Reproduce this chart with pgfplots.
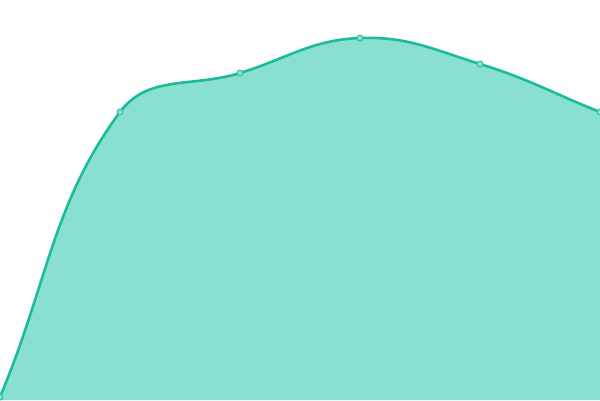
\documentclass[border=0pt]{standalone}
\usepackage{pgfplots}
\pgfplotsset{compat=1.18}
\definecolor{turq}{RGB}{26,188,156}
\definecolor{turqfill}{RGB}{137,224,208}

% spline like the one of the source chart: control points weighted by the
% distances to the neighbours (tension 0.4)
\makeatletter
\newcount\cj@n
\newcount\cj@i
\def\cj@t{0.4}
\def\cj@get#1#2{\csname cj#1\number#2\endcsname}
\def\pgfplothandlerchartjs{%
  \def\pgf@plotstreamstart{\global\cj@n=0\relax}%
  \def\pgf@plotstreampoint##1{%
    \pgf@process{##1}%
    \global\advance\cj@n by 1\relax
    \expandafter\xdef\csname cjx\the\cj@n\endcsname{\strip@pt\pgf@x}%
    \expandafter\xdef\csname cjy\the\cj@n\endcsname{\strip@pt\pgf@y}}%
  \def\pgf@plotstreamspecial##1{}%
  \def\pgf@plotstreamend{\cj@emit}%
}
\def\cj@emit{%
  \cj@i=1\relax
  \loop
    \edef\cj@pi{\ifnum\cj@i=1 1\else\number\numexpr\cj@i-1\relax\fi}%
    \edef\cj@ni{\ifnum\cj@i=\cj@n \number\cj@n\else\number\numexpr\cj@i+1\relax\fi}%
    \edef\xa{\cj@get{x}{\cj@pi}}\edef\ya{\cj@get{y}{\cj@pi}}%
    \edef\xb{\cj@get{x}{\cj@i}}\edef\yb{\cj@get{y}{\cj@i}}%
    \edef\xc{\cj@get{x}{\cj@ni}}\edef\yc{\cj@get{y}{\cj@ni}}%
    \edef\dA{\fpeval{sqrt((\xb-\xa)^2+(\yb-\ya)^2)}}%
    \edef\dB{\fpeval{sqrt((\xc-\xb)^2+(\yc-\yb)^2)}}%
    \edef\fa{\fpeval{(\dA+\dB==0) ? 0 : \cj@t*\dA/(\dA+\dB)}}%
    \edef\fb{\fpeval{(\dA+\dB==0) ? 0 : \cj@t*\dB/(\dA+\dB)}}%
    \expandafter\xdef\csname cjpx\number\cj@i\endcsname{\fpeval{\xb-\fa*(\xc-\xa)}}%
    \expandafter\xdef\csname cjpy\number\cj@i\endcsname{\fpeval{\yb-\fa*(\yc-\ya)}}%
    \expandafter\xdef\csname cjnx\number\cj@i\endcsname{\fpeval{\xb+\fb*(\xc-\xa)}}%
    \expandafter\xdef\csname cjny\number\cj@i\endcsname{\fpeval{\yb+\fb*(\yc-\ya)}}%
    \advance\cj@i by 1\relax
  \ifnum\cj@i>\cj@n\else\repeat
  \pgf@plot@first@action{\pgfqpoint{\cj@get{x}{1}pt}{\cj@get{y}{1}pt}}%
  \cj@i=1\relax
  \loop\ifnum\cj@i<\cj@n
    \edef\cj@ni{\number\numexpr\cj@i+1\relax}%
    \pgfpathcurveto
      {\pgfqpoint{\cj@get{nx}{\cj@i}pt}{\cj@get{ny}{\cj@i}pt}}%
      {\pgfqpoint{\cj@get{px}{\cj@ni}pt}{\cj@get{py}{\cj@ni}pt}}%
      {\pgfqpoint{\cj@get{x}{\cj@ni}pt}{\cj@get{y}{\cj@ni}pt}}%
    \advance\cj@i by 1\relax
  \repeat
}
\tikzset{chartjs/.code={\let\tikz@plot@handler=\pgfplothandlerchartjs}}
\makeatother

\pgfplotstableread{
x y
0 3
120 288
240 327
360 362
480 336
600 288
}\datatable

\begin{document}
\begin{tikzpicture}
  \begin{axis}[
      width=600bp, height=400bp, scale only axis,
      hide axis,
      xmin=0, xmax=600, ymin=0, ymax=400,
      clip=true, clip marker paths=true,
    ]
    \addplot[fill=turqfill, draw=none, chartjs] table {\datatable} \closedcycle;
    \addplot[turq, line width=2.6bp, chartjs,
             mark=*, mark size=3bp,
             mark options={fill=turqfill, draw=turq!90!white, line width=1bp}]
      table {\datatable};
  \end{axis}
  \pgfresetboundingbox
  \path (current axis.south west) rectangle (current axis.north east);
\end{tikzpicture}
\end{document}
